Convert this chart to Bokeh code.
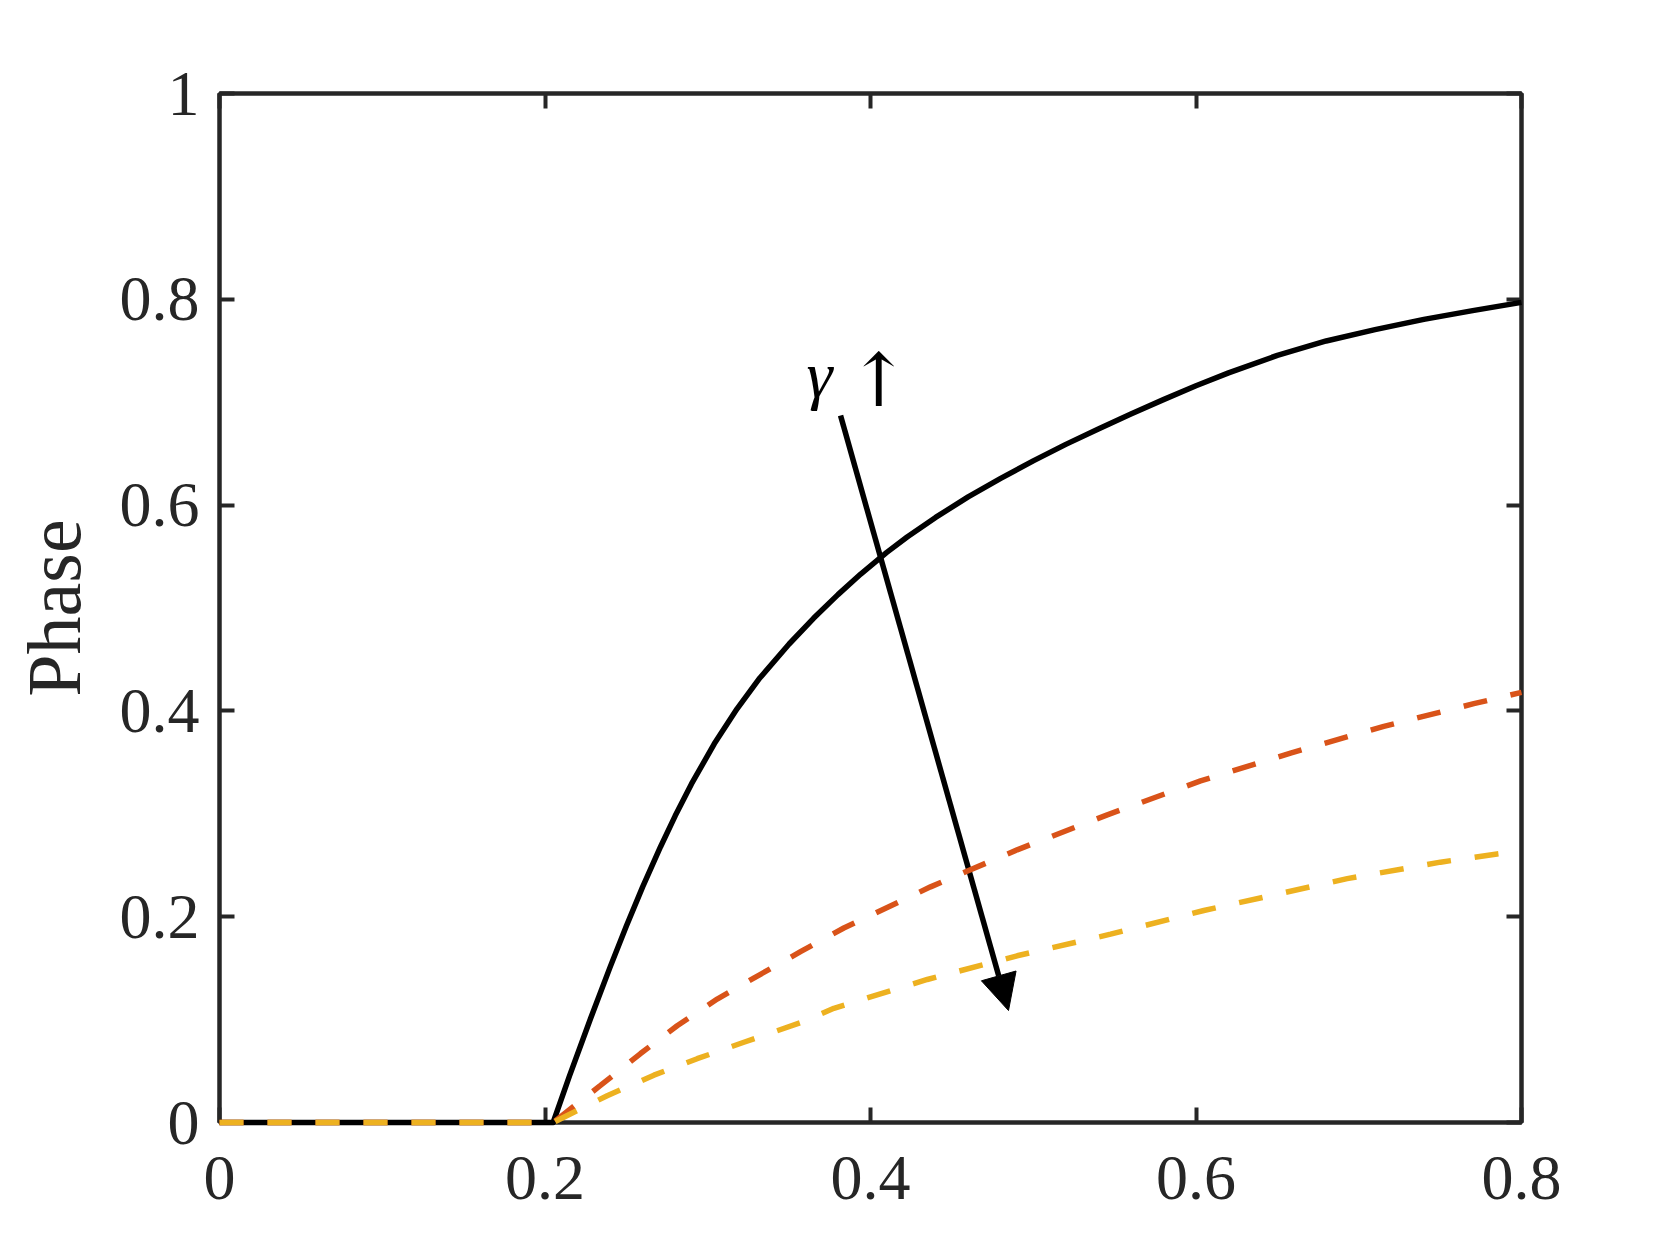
from bokeh.plotting import figure
from bokeh.models import (Range1d, LinearAxis, FixedTicker, CustomJSTickFormatter,
                          Arrow, NormalHead)
from bokeh.core.properties import value
from bokeh.embed import file_html
from bokeh.resources import INLINE

# ---- data ----
black_x = [0.0, 0.205, 0.215, 0.228, 0.24, 0.25, 0.26, 0.271, 0.28, 0.29, 0.304, 0.318,
           0.332, 0.35, 0.365, 0.38, 0.394, 0.41, 0.4225, 0.44, 0.46, 0.48, 0.50, 0.52,
           0.54, 0.56, 0.58, 0.60, 0.62, 0.65, 0.68, 0.71, 0.74, 0.77, 0.8]
black_y = [0.0, 0.0, 0.045, 0.101, 0.151, 0.191, 0.229, 0.268, 0.298, 0.329, 0.368, 0.402,
           0.432, 0.465, 0.490, 0.513, 0.533, 0.554, 0.569, 0.588, 0.608, 0.626, 0.643, 0.659,
           0.674, 0.6885, 0.7025, 0.716, 0.7285, 0.7455, 0.7595, 0.7705, 0.7805, 0.789, 0.797]

red_x = [0.0, 0.205, 0.2341, 0.2587, 0.2812, 0.3058, 0.3324, 0.357, 0.3836, 0.4369,
         0.4901, 0.5455, 0.6028, 0.6581, 0.7154, 0.7707, 0.8]
red_y = [0.0, 0.0, 0.036, 0.067, 0.094, 0.120, 0.144, 0.166, 0.189, 0.229,
         0.265, 0.299, 0.332, 0.359, 0.385, 0.407, 0.418]

yellow_x = [0.0, 0.205, 0.2177, 0.2382, 0.2669, 0.2935, 0.3222, 0.357, 0.3775, 0.4349,
            0.4901, 0.5475, 0.6048, 0.6929, 0.7502, 0.785, 0.8]
yellow_y = [0.0, 0.0, 0.010, 0.026, 0.046, 0.062, 0.078, 0.097, 0.111, 0.139,
            0.162, 0.183, 0.206, 0.237, 0.253, 0.261, 0.264]

x_ticks = [0.0, 0.2, 0.4, 0.6, 0.8]
y_ticks = [0.0, 0.2, 0.4, 0.6, 0.8, 1.0]
y_label = "Phase"
gamma_text = ["γ"]
gamma_x = [0.3607]
gamma_y = [0.7269]
up_text = ["↑"]
up_x = [0.386]
up_y = [0.7211]
arrow_start = (0.3816, 0.687)
arrow_end = (0.4848, 0.1088)

FONT = "Liberation Serif"
AX = "#262626"

p = figure(width=1670, height=1250, x_range=Range1d(0, 0.8), y_range=Range1d(0, 1),
           output_backend="svg", toolbar_location=None,
           min_border_left=219, min_border_right=149, min_border_top=93, min_border_bottom=128)
p.background_fill_color = "white"
p.border_fill_color = "white"
p.grid.visible = False
p.outline_line_color = AX
p.outline_line_width = 4

fmt_code = "var s = tick.toFixed(1); if (s.endsWith('.0')) { s = s.slice(0, -2); } return s;"

def style_axis(ax, labels=True):
    ax.major_tick_in = 15
    ax.major_tick_out = 0
    ax.minor_tick_line_color = None
    ax.axis_line_color = AX
    ax.axis_line_width = 4
    ax.major_tick_line_color = AX
    ax.major_tick_line_width = 4
    ax.major_label_text_font = FONT
    ax.major_label_text_font_size = "64px"
    ax.major_label_text_color = AX
    if labels:
        ax.formatter = CustomJSTickFormatter(code=fmt_code)
    else:
        ax.formatter = CustomJSTickFormatter(code="return '';")

xa = p.xaxis[0]
xa.ticker = FixedTicker(ticks=x_ticks)
style_axis(xa)
xa.major_label_standoff = 34

ya = p.yaxis[0]
ya.ticker = FixedTicker(ticks=y_ticks)
style_axis(ya)
ya.major_label_standoff = 20
ya.axis_label = y_label
ya.axis_label_text_font = FONT
ya.axis_label_text_font_size = "76px"
ya.axis_label_text_font_style = "normal"
ya.axis_label_text_color = AX
ya.axis_label_standoff = 21

top = LinearAxis(ticker=FixedTicker(ticks=x_ticks))
style_axis(top, labels=False)
p.add_layout(top, "above")
right = LinearAxis(ticker=FixedTicker(ticks=y_ticks))
style_axis(right, labels=False)
p.add_layout(right, "right")

LW = 5.5
r1 = p.line(black_x, black_y, line_color="black", line_width=LW, line_join="round")
r2 = p.line(red_x, red_y, line_color="#D95319", line_width=LW, line_dash="24 24")
r3 = p.line(yellow_x, yellow_y, line_color="#EDB120", line_width=LW, line_dash="24 24")
for r in (r1, r2, r3):
    r.level = "overlay"

p.text(x=gamma_x, y=gamma_y, text=gamma_text, text_font=value(FONT), text_font_style="italic",
       text_font_size="66px", text_baseline="alphabetic", text_align="left", text_color="black")
p.text(x=up_x, y=up_y, text=up_text, text_font=value("DejaVu Serif"),
       text_font_size="74px", text_baseline="alphabetic", text_align="left", text_color="black")

arr = Arrow(end=NormalHead(size=36, fill_color="black", line_color="black", line_width=1),
            x_start=arrow_start[0], y_start=arrow_start[1],
            x_end=arrow_end[0], y_end=arrow_end[1],
            line_color="black", line_width=LW)
p.add_layout(arr)

open("out.html", "w").write(file_html(p, INLINE))
